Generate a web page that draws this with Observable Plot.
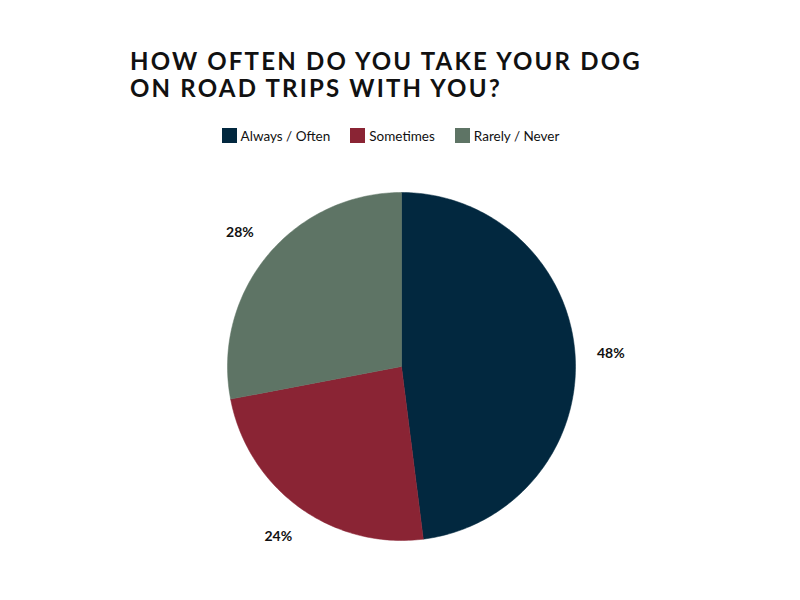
<!DOCTYPE html>
<html><head><meta charset="utf-8">
<script src="https://cdn.jsdelivr.net/npm/d3@7"></script>
<script src="https://cdn.jsdelivr.net/npm/@observablehq/plot@0.6"></script>
<style>
body{margin:0;background:#fff;font-family:Lato,"Open Sans",sans-serif;color:#111;}
#wrap{width:800px;position:relative;}
#head{position:relative;height:160px;}
#title{position:absolute;left:130px;top:47px;font-size:24px;font-weight:700;letter-spacing:2.2px;line-height:27px;margin:0;white-space:nowrap;}
#legend{position:absolute;top:128px;left:0;width:781px;height:15px;display:flex;justify-content:center;align-items:center;font-size:13.5px;}
.item{display:flex;align-items:center;margin:0 10px;}
.sw{width:15px;height:15px;margin-right:4px;}
</style></head>
<body>
<div id="wrap">
  <div id="head">
    <div id="title">HOW OFTEN DO YOU TAKE YOUR DOG<br>ON ROAD TRIPS WITH YOU?</div>
    <div id="legend"></div>
  </div>
  <div id="chart"></div>
</div>
<script>
const categories = ["Always / Often", "Sometimes", "Rarely / Never"];
const values = [48, 24, 28];
const valueLabels = ["48%", "24%", "28%"];
const colors = ["#02283f", "#8a2434", "#5e7465"];

// legend
const legend = document.getElementById("legend");
categories.forEach((c, i) => {
  const it = document.createElement("div");
  it.className = "item";
  it.innerHTML = `<span class="sw" style="background:${colors[i]}"></span><span>${c}</span>`;
  legend.appendChild(it);
});

// slice geometry from data
const arcs = d3.pie().sort(null).value(d => d)(values);
const pts = [];
arcs.forEach((a, i) => {
  const key = categories[i];
  pts.push({key, x: 0, y: 0});
  const n = Math.max(2, Math.ceil((a.endAngle - a.startAngle) / (Math.PI / 180)));
  for (let k = 0; k <= n; k++) {
    const t = a.startAngle + (a.endAngle - a.startAngle) * k / n;
    pts.push({key, x: Math.sin(t), y: Math.cos(t)});
  }
  pts.push({key, x: 0, y: 0});
});
const labelR = 1.205;
const labelData = arcs.map((a, i) => {
  const m = (a.startAngle + a.endAngle) / 2;
  return {text: valueLabels[i], x: labelR * Math.sin(m), y: labelR * Math.cos(m)};
});

const plot = Plot.plot({
  width: 800,
  height: 440,
  style: {fontFamily: "Lato, 'Open Sans', sans-serif", background: "#fff"},
  x: {domain: [-1, 1], range: [227, 575], axis: null},
  y: {domain: [-1, 1], range: [380, 32], axis: null},
  color: {domain: categories, range: colors},
  marks: [
    Plot.line(pts, {x: "x", y: "y", z: "key", fill: "key", stroke: "key", strokeWidth: 0.5}),
    Plot.text(labelData, {x: "x", y: "y", text: "text", fontSize: 14, fontWeight: "bold", fill: "#111"})
  ]
});
document.getElementById("chart").appendChild(plot);
</script>
</body></html>
